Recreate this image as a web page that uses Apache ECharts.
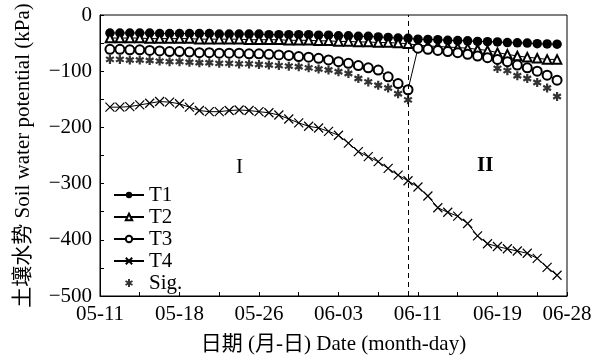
<!DOCTYPE html>
<html>
<head>
<meta charset="utf-8">
<script src="https://cdn.jsdelivr.net/npm/echarts@6/dist/echarts.min.js"></script>
<style>html,body{margin:0;padding:0;background:#fff}#c{width:603px;height:362px}</style>
</head>
<body>
<div id="c"></div>
<script>
// Day offsets from 05-11 (one reading per day, 05-12 .. 06-26)
var days = [1,2,3,4,5,6,7,8,9,10,11,12,13,14,15,16,17,18,19,20,21,22,23,24,25,26,27,28,29,30,31,32,33,34,35,36,37,38,39,40,41,42,43,44,45,46];
var t1 = [-32,-32,-32,-32,-32,-33,-33,-33,-33,-33,-33,-34,-34,-34,-34,-34,-35,-35,-35,-35,-35,-36,-36,-37,-37,-38,-38,-39,-40,-41,-41.5,-43,-43.5,-44,-45,-45.5,-46,-47,-47.5,-48,-49,-49.5,-50,-51,-51.5,-52];
var t2 = [-41,-41,-41,-41,-42,-42,-42,-42,-42,-43,-43,-43,-43,-43,-44,-44,-44,-44,-45,-45,-45,-46,-46,-47,-47,-48,-48,-49,-49,-50,-51,-54,-55,-56,-57,-58,-59,-61,-63,-67,-70,-73,-75,-77,-79,-79];
var t3 = [-61,-61,-62,-62,-63,-64,-65,-65,-66,-67,-67,-68,-68,-68,-69,-69,-70,-71,-72,-74,-75,-77,-80,-83,-86,-90,-94,-98,-110,-122,-133,-59,-61,-63,-65,-67,-70,-73,-76,-79,-83,-89,-94,-100,-107,-116];
var t4 = [-164,-164,-163,-160,-157,-154,-155,-158,-164,-170,-172,-172,-170,-169,-170,-172,-174,-178,-185,-192,-198,-201,-207,-214,-228,-243,-252,-261,-273,-285,-295,-306,-322,-343,-351,-358,-371,-393,-407,-412,-416,-420,-424,-433,-449,-463];
var sig = [-79,-79,-80,-80,-81,-82,-83,-83,-84,-85,-85,-86,-86,-87,-87,-88,-89,-90,-91,-92,-94,-96,-98,-101,-104,-113,-119,-125,-130,-140,-151,null,null,null,null,null,null,null,null,-95,-99,-108,-113,-120,-130,-145];
var tickLabelDays = [0, 8, 16, 24, 32, 40, 47];
var tickLabels = ['05-11','05-18','05-26','06-03','06-11','06-19','06-28'];
var yTickLabels = [0, -100, -200, -300, -400, -500];
var divideDay = 31;
var periodLabels = ['I', 'II'];

function pairs(v){ return days.map(function(d,i){ return [d, v[i]]; }); }

var FONT = '"Liberation Serif","Times New Roman","Noto Sans CJK SC",serif';
var chart = echarts.init(document.getElementById('c'), null, {renderer:'canvas'});
var crossPath = 'path://M0,0L10,10M10,0L0,10';
var starPath = 'path://M5,0L5,10M0.67,2.5L9.33,7.5M0.67,7.5L9.33,2.5';

var lineBase = {type:'line', smooth:false, lineStyle:{color:'#000', width:1}, z:3};

chart.setOption({
  animation:false,
  backgroundColor:'#fff',
  textStyle:{fontFamily:FONT, color:'#000'},
  grid:{left:100, top:15, width:467, height:281, show:true, borderColor:'#000', borderWidth:1, backgroundColor:'transparent'},
  legend:{
    orient:'vertical', left:113, top:184, itemWidth:30, itemHeight:8, itemGap:0, padding:0,
    textStyle:{fontFamily:FONT, fontSize:21, color:'#000', lineHeight:22},
    data:['T1','T2','T3','T4','Sig.']
  },
  xAxis:{
    type:'value', min:0, max:47, interval:4,
    name:'日期 (月-日) Date (month-day)', nameLocation:'middle', nameGap:38,
    nameTextStyle:{fontFamily:FONT, fontSize:21, color:'#000'},
    axisLine:{show:true, onZero:false, lineStyle:{color:'#000', width:1}},
    axisTick:{show:true, inside:true, length:4, lineStyle:{color:'#000'}},
    splitLine:{show:false},
    axisLabel:{
      fontFamily:FONT, fontSize:21, color:'#000', margin:8, showMaxLabel:true, showMinLabel:true,
      formatter:function(v){ var i = tickLabelDays.indexOf(Math.round(v*1000)/1000); return i>=0 ? tickLabels[i] : ''; }
    }
  },
  yAxis:{
    type:'value', min:-500, max:0, interval:50,
    name:'土壤水势 Soil water potential (kPa)', nameLocation:'middle', nameGap:66, nameRotate:90,
    nameTextStyle:{fontFamily:FONT, fontSize:21, color:'#000'},
    axisLine:{show:true, onZero:false, lineStyle:{color:'#000', width:1}},
    axisTick:{show:true, inside:true, length:4, lineStyle:{color:'#000'}},
    splitLine:{show:false},
    axisLabel:{
      fontFamily:FONT, fontSize:21, color:'#000', margin:8,
      formatter:function(v){ return yTickLabels.indexOf(v)>=0 ? (v<0 ? '\u2212'+(-v) : String(v)) : ''; }
    }
  },
  series:[
    Object.assign({}, lineBase, {name:'T1', data:pairs(t1), symbol:'circle', symbolSize:9.5, itemStyle:{color:'#000'}}),
    Object.assign({}, lineBase, {name:'T2', data:pairs(t2), symbol:'emptyTriangle', symbolSize:8.5, itemStyle:{color:'#000', borderColor:'#000', borderWidth:1}}),
    Object.assign({}, lineBase, {name:'T3', data:pairs(t3), symbol:'emptyCircle', symbolSize:9, itemStyle:{color:'#000', borderColor:'#000', borderWidth:1},
      markLine:{silent:true, symbol:'none', label:{show:false}, lineStyle:{color:'#000', type:[5,4], width:1}, data:[{xAxis:divideDay}]}}),
    Object.assign({}, lineBase, {name:'T4', data:pairs(t4), symbol:crossPath, symbolSize:9, itemStyle:{color:'rgba(0,0,0,0)', borderColor:'#000', borderWidth:1.2}}),
    {type:'scatter', name:'Sig.', data:pairs(sig), symbol:starPath, symbolSize:9, symbolKeepAspect:true,
      itemStyle:{color:'rgba(0,0,0,0)', borderColor:'#000', borderWidth:2.2}, z:4}
  ],
  graphic:[
    {type:'text', left:236, top:157, style:{text:periodLabels[0], font:'21px '+FONT, fill:'#000'}},
    {type:'text', left:477, top:155, style:{text:periodLabels[1], font:'bold 21px '+FONT, fill:'#000'}}
  ]
});
</script>
</body>
</html>
